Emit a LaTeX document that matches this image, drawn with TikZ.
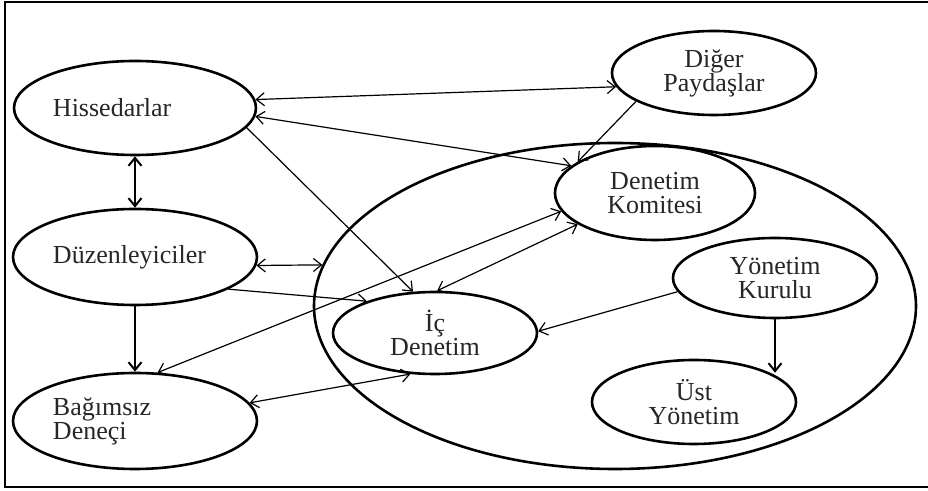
\documentclass[tikz,border=0pt]{standalone}
\usepackage{fontspec}
\setmainfont{Liberation Serif}
\usetikzlibrary{shapes.geometric,arrows.meta}
\newcommand{\partyfont}{\fontsize{13}{12}\selectfont}
\tikzset{
  party/.style={ellipse,draw,line width=1.3pt,inner sep=0pt,font=\partyfont,align=center,text=black!85},
  leftparty/.style={party,text width=82pt,align=left},
  link/.style={line width=.6pt},
  vlink/.style={line width=1pt}
}

\begin{document}
\begin{tikzpicture}[x=.5pt,y=-.5pt,>={Straight Barb[length=4pt,width=6.5pt]}]
  \useasboundingbox(0,0) rectangle (928,491);
  \draw[line width=1.3pt](928,2) -- (5,2) -- (5,487) -- (928,487);
  \draw(615,306) node[ellipse,draw,line width=1.3pt,minimum width=301pt,minimum height=163pt] (org) {};
  \draw(135,108) node[leftparty,minimum width=121pt,minimum height=47pt] (hiss) {Hissedarlar};
  \draw(135,257) node[leftparty,minimum width=122pt,minimum height=48pt] (duz) {Düzenleyiciler};
  \draw(135,421) node[leftparty,minimum width=122pt,minimum height=48pt] (bag) {Bağımsız\\Deneçi};
  \draw(714,73) node[party,minimum width=102pt,minimum height=42pt] (diger) {Diğer\\Paydaşlar};
  \draw(655,193) node[party,minimum width=100pt,minimum height=47pt] (komite) {Denetim\\Komitesi};
  \draw(775,278) node[party,minimum width=102pt,minimum height=40pt] (kurul) {Yönetim\\Kurulu};
  \draw(694,402) node[party,minimum width=102pt,minimum height=42pt] (ust) {Üst\\Yönetim};
  \draw(435,333) node[party,minimum width=102pt,minimum height=41pt] (ic) {İç\\Denetim};
  \draw[link,<->](hiss.4) -- (diger.188);
  \draw[link,<->](hiss.356) -- (komite.162);
  \draw[link,->](hiss.350) -- (ic.118);
  \draw[link,->](diger.200) -- (komite.158);
  \draw[vlink,<->](hiss.south) -- (duz.north);
  \draw[link,<->](duz.356) -- (org.172);
  \draw[link,->](duz.341) -- (ic.155);
  \draw[vlink,->](duz.south) -- (bag.north);
  \draw[link,<->](bag.65) -- (komite.191);
  \draw[link,<->](ic.87) -- (komite.202);
  \draw[link,->](kurul.188) -- (ic.1);
  \draw[vlink,->](kurul.south) -- (kurul.south|-ust.21);
  \draw[link,<->](bag.9) -- (ic.239);
\end{tikzpicture}
\end{document}
